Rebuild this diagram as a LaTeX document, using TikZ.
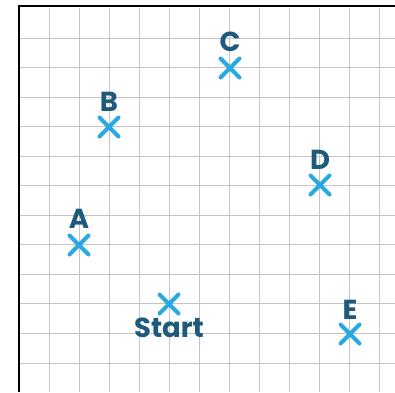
\documentclass[tikz,border=0pt]{standalone}
\usepackage{fontspec}
\setmainfont{Poppins}
\usetikzlibrary{shapes.misc}
\definecolor{gridgray}{HTML}{C4C4C4}
\definecolor{markblue}{HTML}{2AA9E0}
\definecolor{labelblue}{HTML}{1D5A7B}
\tikzset{
  gridline/.style={draw=gridgray, line width=1pt},
  borderline/.style={draw=black, line width=2pt},
  marker/.style={cross out, draw=markblue, line width=4pt, line cap=round, minimum size=15pt, inner sep=0pt},
  lbl/.style={text=labelblue, font=\fontsize{27.5}{27.5}\selectfont\bfseries, inner sep=0pt}
}
\begin{document}
\begin{tikzpicture}[x=1pt,y=-1pt]
\useasboundingbox (0,0) rectangle (395,392);
\fill[white] (0,0) rectangle (395,392);
% grid
\foreach \k in {1,...,12} {
  \draw[gridline] ({19+30*\k},8) -- ({19+30*\k},392);
}
\foreach \k in {0,...,11} {
  \draw[gridline] (19,{38+29.55*\k}) -- (395,{38+29.55*\k});
}
% border
\draw[borderline] (19,392) -- (19,6) -- (395,6);
% markers
\node[marker] (mA) at (79,245) {};
\node[marker] (mB) at (109,127) {};
\node[marker] (mC) at (230,68) {};
\node[marker] (mD) at (320,185) {};
\node[marker] (mE) at (350,334) {};
\node[marker] (mS) at (169,304) {};
% labels
\node[lbl] (lA) at (79,219) {A};
\node[lbl] (lB) at (109,102) {B};
\node[lbl] (lC) at (230,42) {C};
\node[lbl] (lD) at (320,160) {D};
\node[lbl] (lE) at (350,310) {E};
\node[lbl] (lS) at (169,328) {Start};
\end{tikzpicture}
\end{document}
